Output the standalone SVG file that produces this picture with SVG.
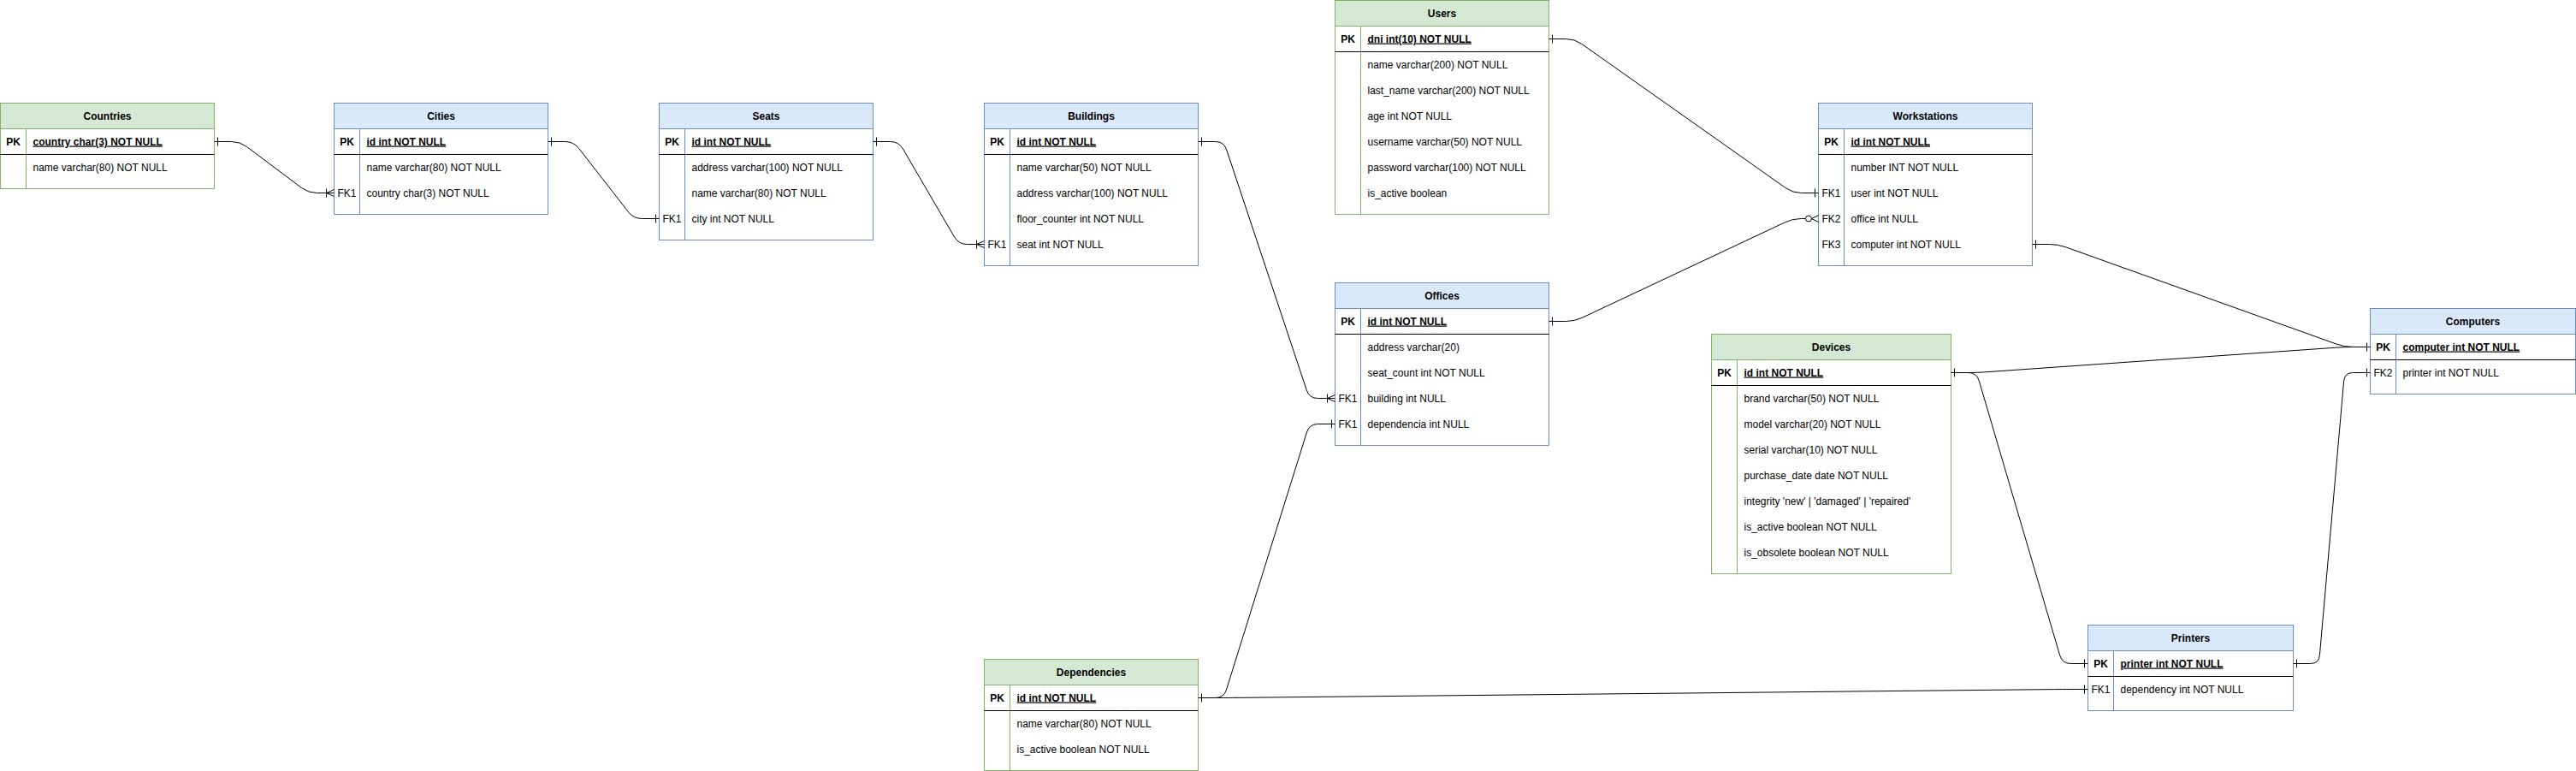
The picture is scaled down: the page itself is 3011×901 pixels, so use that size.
<svg xmlns="http://www.w3.org/2000/svg" xmlns:xlink="http://www.w3.org/1999/xlink" width="3011" height="901" viewBox="0 0 3011 901">
<style>
.bg{fill:#ffffff}
.g{stroke:#82b366;fill:#ffffff;stroke-width:1}
.gh{stroke:#82b366;fill:#d5e8d4;stroke-width:1}
.b{stroke:#6c8ebf;fill:#ffffff;stroke-width:1}
.bh{stroke:#6c8ebf;fill:#dae8fc;stroke-width:1}
.gl{stroke:#82b366;stroke-width:1}
.bl{stroke:#6c8ebf;stroke-width:1}
.sep{stroke:#000000;stroke-width:1}
text{font-family:"Liberation Sans",Arial,Helvetica,sans-serif;font-size:12px;fill:#000000}
.c{text-anchor:middle}
.bd{font-weight:bold}
.u{text-decoration:underline}
.edge{fill:none;stroke:#000000;stroke-width:1}
.mk{fill:none;stroke:#000000;stroke-width:1}
</style>
<defs>
<path id="barOut" class="mk" d="M4,-5V5"/>
<path id="barIn" class="mk" d="M-4,-5V5"/>
<path id="crowIn" class="mk" d="M-9,-5V5M-9,0L0,-4M-9,0L0,4"/>
<g id="zeroManyIn" class="mk"><circle cx="-11.5" cy="0" r="3.5"/><path d="M-8,0L0,-4M-8,0L0,4"/></g>
</defs>
<rect class="bg" x="0" y="0" width="3011" height="901"/>
<g transform="translate(0.5,0.5)">

<g id="countries">
<rect class="g" x="0" y="120" width="250" height="100"/>
<rect class="gh" x="0" y="120" width="250" height="30"/>
<line class="gl" x1="30" y1="150" x2="30" y2="220"/>
<line class="sep" x1="0" y1="180" x2="250" y2="180"/>
<text class="c bd" x="125" y="139">Countries</text>
<text class="c bd" x="15" y="169">PK</text>
<text class="bd u" x="38" y="169">country char(3) NOT NULL</text>
<text x="38" y="199">name varchar(80) NOT NULL</text>
</g>

<g id="cities">
<rect class="b" x="390" y="120" width="250" height="130"/>
<rect class="bh" x="390" y="120" width="250" height="30"/>
<line class="bl" x1="420" y1="150" x2="420" y2="250"/>
<line class="sep" x1="390" y1="180" x2="640" y2="180"/>
<text class="c bd" x="515" y="139">Cities</text>
<text class="c bd" x="405" y="169">PK</text>
<text class="bd u" x="428" y="169">id int NOT NULL</text>
<text x="428" y="199">name varchar(80) NOT NULL</text>
<text class="c" x="405" y="229">FK1</text>
<text x="428" y="229">country char(3) NOT NULL</text>
</g>

<g id="seats">
<rect class="b" x="770" y="120" width="250" height="160"/>
<rect class="bh" x="770" y="120" width="250" height="30"/>
<line class="bl" x1="800" y1="150" x2="800" y2="280"/>
<line class="sep" x1="770" y1="180" x2="1020" y2="180"/>
<text class="c bd" x="895" y="139">Seats</text>
<text class="c bd" x="785" y="169">PK</text>
<text class="bd u" x="808" y="169">id int NOT NULL</text>
<text x="808" y="199">address varchar(100) NOT NULL</text>
<text x="808" y="229">name varchar(80) NOT NULL</text>
<text class="c" x="785" y="259">FK1</text>
<text x="808" y="259">city int NOT NULL</text>
</g>

<g id="buildings">
<rect class="b" x="1150" y="120" width="250" height="190"/>
<rect class="bh" x="1150" y="120" width="250" height="30"/>
<line class="bl" x1="1180" y1="150" x2="1180" y2="310"/>
<line class="sep" x1="1150" y1="180" x2="1400" y2="180"/>
<text class="c bd" x="1275" y="139">Buildings</text>
<text class="c bd" x="1165" y="169">PK</text>
<text class="bd u" x="1188" y="169">id int NOT NULL</text>
<text x="1188" y="199">name varchar(50) NOT NULL</text>
<text x="1188" y="229">address varchar(100) NOT NULL</text>
<text x="1188" y="259">floor_counter int NOT NULL</text>
<text class="c" x="1165" y="289">FK1</text>
<text x="1188" y="289">seat int NOT NULL</text>
</g>

<g id="users">
<rect class="g" x="1560" y="0" width="250" height="250"/>
<rect class="gh" x="1560" y="0" width="250" height="30"/>
<line class="gl" x1="1590" y1="30" x2="1590" y2="250"/>
<line class="sep" x1="1560" y1="60" x2="1810" y2="60"/>
<text class="c bd" x="1685" y="19">Users</text>
<text class="c bd" x="1575" y="49">PK</text>
<text class="bd u" x="1598" y="49">dni int(10) NOT NULL</text>
<text x="1598" y="79">name varchar(200) NOT NULL</text>
<text x="1598" y="109">last_name varchar(200) NOT NULL</text>
<text x="1598" y="139">age int NOT NULL</text>
<text x="1598" y="169">username varchar(50) NOT NULL</text>
<text x="1598" y="199">password varchar(100) NOT NULL</text>
<text x="1598" y="229">is_active boolean</text>
</g>

<g id="offices">
<rect class="b" x="1560" y="330" width="250" height="190"/>
<rect class="bh" x="1560" y="330" width="250" height="30"/>
<line class="bl" x1="1590" y1="360" x2="1590" y2="520"/>
<line class="sep" x1="1560" y1="390" x2="1810" y2="390"/>
<text class="c bd" x="1685" y="349">Offices</text>
<text class="c bd" x="1575" y="379">PK</text>
<text class="bd u" x="1598" y="379">id int NOT NULL</text>
<text x="1598" y="409">address varchar(20)</text>
<text x="1598" y="439">seat_count int NOT NULL</text>
<text class="c" x="1575" y="469">FK1</text>
<text x="1598" y="469">building int NULL</text>
<text class="c" x="1575" y="499">FK1</text>
<text x="1598" y="499">dependencia int NULL</text>
</g>

<g id="workstations">
<rect class="b" x="2125" y="120" width="250" height="190"/>
<rect class="bh" x="2125" y="120" width="250" height="30"/>
<line class="bl" x1="2155" y1="150" x2="2155" y2="310"/>
<line class="sep" x1="2125" y1="180" x2="2375" y2="180"/>
<text class="c bd" x="2250" y="139">Workstations</text>
<text class="c bd" x="2140" y="169">PK</text>
<text class="bd u" x="2163" y="169">id int NOT NULL</text>
<text x="2163" y="199">number INT NOT NULL</text>
<text class="c" x="2140" y="229">FK1</text>
<text x="2163" y="229">user int NOT NULL</text>
<text class="c" x="2140" y="259">FK2</text>
<text x="2163" y="259">office int NULL</text>
<text class="c" x="2140" y="289">FK3</text>
<text x="2163" y="289">computer int NOT NULL</text>
</g>

<g id="devices">
<rect class="g" x="2000" y="390" width="280" height="280"/>
<rect class="gh" x="2000" y="390" width="280" height="30"/>
<line class="gl" x1="2030" y1="420" x2="2030" y2="670"/>
<line class="sep" x1="2000" y1="450" x2="2280" y2="450"/>
<text class="c bd" x="2140" y="409">Devices</text>
<text class="c bd" x="2015" y="439">PK</text>
<text class="bd u" x="2038" y="439">id int NOT NULL</text>
<text x="2038" y="469">brand varchar(50) NOT NULL</text>
<text x="2038" y="499">model varchar(20) NOT NULL</text>
<text x="2038" y="529">serial varchar(10) NOT NULL</text>
<text x="2038" y="559">purchase_date date NOT NULL</text>
<text x="2038" y="589">integrity 'new' | 'damaged' | 'repaired'</text>
<text x="2038" y="619">is_active boolean NOT NULL</text>
<text x="2038" y="649">is_obsolete boolean NOT NULL</text>
</g>

<g id="dependencies">
<rect class="g" x="1150" y="770" width="250" height="130"/>
<rect class="gh" x="1150" y="770" width="250" height="30"/>
<line class="gl" x1="1180" y1="800" x2="1180" y2="900"/>
<line class="sep" x1="1150" y1="830" x2="1400" y2="830"/>
<text class="c bd" x="1275" y="789">Dependencies</text>
<text class="c bd" x="1165" y="819">PK</text>
<text class="bd u" x="1188" y="819">id int NOT NULL</text>
<text x="1188" y="849">name varchar(80) NOT NULL</text>
<text x="1188" y="879">is_active boolean NOT NULL</text>
</g>

<g id="printers">
<rect class="b" x="2440" y="730" width="240" height="100"/>
<rect class="bh" x="2440" y="730" width="240" height="30"/>
<line class="bl" x1="2470" y1="760" x2="2470" y2="830"/>
<line class="sep" x1="2440" y1="790" x2="2680" y2="790"/>
<text class="c bd" x="2560" y="749">Printers</text>
<text class="c bd" x="2455" y="779">PK</text>
<text class="bd u" x="2478" y="779">printer int NOT NULL</text>
<text class="c" x="2455" y="809">FK1</text>
<text x="2478" y="809">dependency int NOT NULL</text>
</g>

<g id="computers">
<rect class="b" x="2770" y="360" width="240" height="100"/>
<rect class="bh" x="2770" y="360" width="240" height="30"/>
<line class="bl" x1="2800" y1="390" x2="2800" y2="460"/>
<line class="sep" x1="2770" y1="420" x2="3010" y2="420"/>
<text class="c bd" x="2890" y="379">Computers</text>
<text class="c bd" x="2785" y="409">PK</text>
<text class="bd u" x="2808" y="409">computer int NOT NULL</text>
<text class="c" x="2785" y="439">FK2</text>
<text x="2808" y="439">printer int NOT NULL</text>
</g>

<g id="connectors">
<path class="edge" d="M250,165L270,165Q280,165 288,171L352,219Q360,225 370,225L390,225"/>
<use xlink:href="#barOut" x="250" y="165"/>
<use xlink:href="#crowIn" x="390" y="225"/>

<path class="edge" d="M640,165L660,165Q670,165 676.1,172.9L733.9,247.1Q740,255 750,255L770,255"/>
<use xlink:href="#barOut" x="640" y="165"/>
<use xlink:href="#barIn" x="770" y="255"/>

<path class="edge" d="M1020,165L1040,165Q1050,165 1055,173.6L1115,276.4Q1120,285 1130,285L1150,285"/>
<use xlink:href="#barOut" x="1020" y="165"/>
<use xlink:href="#crowIn" x="1150" y="285"/>

<path class="edge" d="M1400,165L1420,165Q1430,165 1433.2,174.5L1526.8,455.5Q1530,465 1540,465L1560,465"/>
<use xlink:href="#barOut" x="1400" y="165"/>
<use xlink:href="#crowIn" x="1560" y="465"/>

<path class="edge" d="M1400,815L1420,815Q1430,815 1433,805.5L1527,504.5Q1530,495 1540,495L1560,495"/>
<use xlink:href="#barOut" x="1400" y="815"/>
<use xlink:href="#barIn" x="1560" y="495"/>

<path class="edge" d="M1400,815L1420,815Q1430,815 1440,814.9L2400,805.1Q2410,805 2420,805L2440,805"/>
<use xlink:href="#barIn" x="2440" y="805"/>

<path class="edge" d="M1810,45L1830,45Q1840,45 1848.2,50.8L2086.8,219.2Q2095,225 2105,225L2125,225"/>
<use xlink:href="#barOut" x="1810" y="45"/>
<use xlink:href="#barIn" x="2125" y="225"/>

<path class="edge" d="M1810,375L1830,375Q1840,375 1849,370.7L2086,259.3Q2095,255 2105,255L2110,255"/>
<use xlink:href="#barOut" x="1810" y="375"/>
<use xlink:href="#zeroManyIn" x="2125" y="255"/>

<path class="edge" d="M2375,285L2395,285Q2405,285 2414.4,288.4L2730.6,401.6Q2740,405 2750,405L2770,405"/>
<use xlink:href="#barOut" x="2375" y="285"/>
<use xlink:href="#barIn" x="2770" y="405"/>

<path class="edge" d="M2280,435L2300,435Q2310,435 2320,434.3L2730,405.7Q2740,405 2750,405L2770,405"/>
<use xlink:href="#barOut" x="2280" y="435"/>

<path class="edge" d="M2280,435L2300,435Q2310,435 2312.8,444.6L2407.2,765.4Q2410,775 2420,775L2440,775"/>
<use xlink:href="#barIn" x="2440" y="775"/>

<path class="edge" d="M2680,775L2700,775Q2710,775 2710.9,765L2739.1,445Q2740,435 2750,435L2770,435"/>
<use xlink:href="#barOut" x="2680" y="775"/>
<use xlink:href="#barIn" x="2770" y="435"/>
</g>
</g>
</svg>
